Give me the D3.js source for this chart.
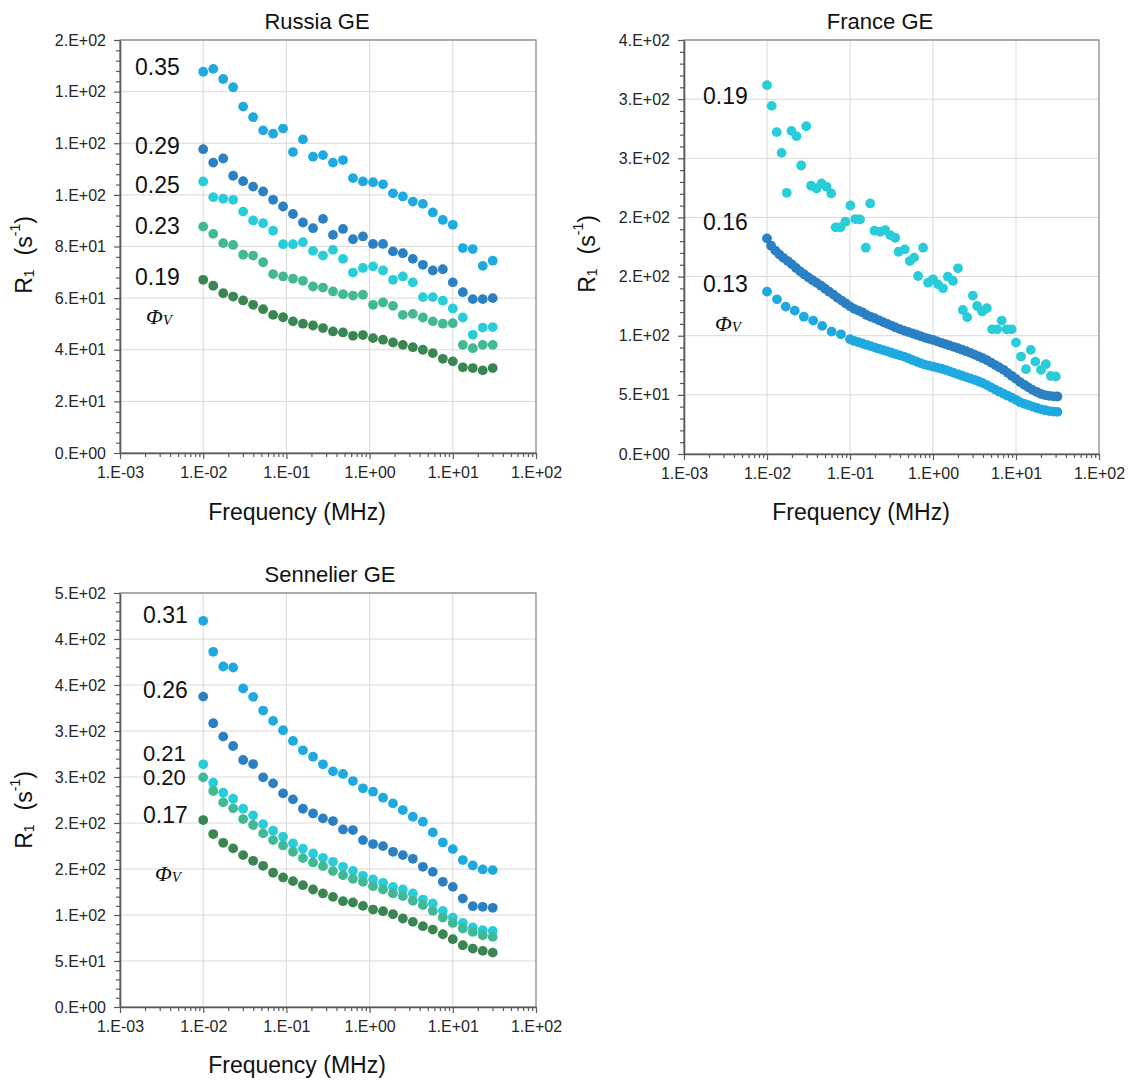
<!DOCTYPE html>
<html><head><meta charset="utf-8">
<script src="https://cdn.jsdelivr.net/npm/d3@7"></script>
<style>body{margin:0;background:#fff}</style>
</head><body>
<svg id="chart" width="1130" height="1082"></svg>
<script>
// ---------------- DATA ----------------
const xTicks = [1e-3, 1e-2, 1e-1, 1e0, 1e1, 1e2];
const xTickLabels = ["1.E-03", "1.E-02", "1.E-01", "1.E+00", "1.E+01", "1.E+02"];

const russiaYTicks = [0, 20, 40, 60, 80, 100, 120, 140, 160];
const russiaYLabels = ["0.E+00", "2.E+01", "4.E+01", "6.E+01", "8.E+01", "1.E+02", "1.E+02", "1.E+02", "2.E+02"];
const franceYTicks = [0, 50, 100, 150, 200, 250, 300, 350];
const franceYLabels = ["0.E+00", "5.E+01", "1.E+02", "2.E+02", "2.E+02", "3.E+02", "3.E+02", "4.E+02"];
const sennelierYTicks = [0, 50, 100, 150, 200, 250, 300, 350, 400, 450];
const sennelierYLabels = ["0.E+00", "5.E+01", "1.E+02", "2.E+02", "2.E+02", "3.E+02", "3.E+02", "4.E+02", "4.E+02", "5.E+02"];

// Russia GE (frequency in MHz, R1 in s^-1)
const russiaFreq = [0.01, 0.0132, 0.0174, 0.0229, 0.0302, 0.0398, 0.0525, 0.0692, 0.0912, 0.120, 0.158, 0.209, 0.275, 0.363, 0.479, 0.631, 0.832, 1.10, 1.45, 1.91, 2.51, 3.31, 4.37, 5.75, 7.59, 10.0, 13.2, 17.4, 22.9, 30.2];
const russia035 = [147.7,148.8,144.9,141.7,134.2,130.1,125.0,123.7,125.7,116.6,121.5,114.8,115.4,112.5,113.5,106.5,105.2,104.9,104.1,100.6,99.4,97.4,96.5,93.2,90.3,88.4,79.4,79.0,72.5,74.5];
const russia029 = [117.7,112.5,114.1,107.4,105.3,103.2,101.3,98.1,95.5,92.6,89.3,87.1,90.7,84.5,86.8,82.8,83.9,81.0,81.0,78.1,77.4,75.2,72.9,70.7,71.2,66.1,62.3,59.6,59.6,60.0];
const russia025 = [105.2,99.1,98.5,98.1,93.5,90.1,89.0,86.1,80.9,80.9,81.7,78.3,76.5,78.7,75.2,69.9,71.7,72.3,70.7,67.1,68.4,66.1,60.4,60.4,59.0,56.0,52.5,45.8,48.6,48.8];
const russia023 = [87.7,84.9,81.3,80.6,76.8,76.5,73.9,69.3,68.4,67.5,66.7,64.5,64.1,62.6,61.5,61.0,61.3,57.4,58.3,57.0,53.5,53.9,52.5,51.0,50.1,50.3,41.9,40.6,41.9,41.9];
const russia019 = [67.1,64.8,61.9,60.6,59.1,57.4,55.7,53.5,52.6,51.0,50.1,49.4,48.4,47.1,46.7,45.4,45.7,44.5,43.9,42.8,41.9,41.0,40.0,38.7,36.5,35.5,33.2,32.9,32.0,32.9];

// France GE
const france019Freq = [0.0100,0.0114,0.0131,0.0150,0.0173,0.0197,0.0227,0.0258,0.0297,0.0340,0.0395,0.0454,0.0522,0.0594,0.0671,0.0771,0.0879,0.101,0.116,0.132,0.155,0.175,0.197,0.231,0.265,0.305,0.350,0.385,0.457,0.525,0.592,0.661,0.759,0.871,1.00,1.15,1.32,1.51,1.74,2.00,2.29,2.58,3.02,3.40,3.91,4.45,5.15,5.92,6.73,7.73,8.87,10.0,11.5,13.2,15.1,17.1,20.0,22.9,26.3,30.2];
const france019 = [311.8,294.3,272.1,254.6,220.8,273.2,268.7,243.9,277.1,226.8,224.5,228.7,225.9,220.3,191.6,191.6,196.4,210.1,198.6,198.3,174.4,211.8,188.8,187.9,189.3,185.1,182.8,171.0,173.0,163.1,166.0,150.5,174.4,144.8,147.7,143.4,140.1,149.9,146.3,157.0,121.8,115.6,133.9,125.1,120.4,123.2,105.4,105.4,112.8,105.4,105.4,94.2,82.4,71.7,88.0,78.1,71.1,75.9,66.0,65.5];
const france016Freq = [0.0100,0.0112,0.0126,0.0141,0.0158,0.0178,0.0200,0.0224,0.0251,0.0282,0.0316,0.0355,0.0398,0.0447,0.0501,0.0562,0.0631,0.0708,0.0794,0.0891,0.100,0.112,0.126,0.141,0.158,0.178,0.200,0.224,0.251,0.282,0.316,0.355,0.398,0.447,0.501,0.562,0.631,0.708,0.794,0.891,1.00,1.12,1.26,1.41,1.58,1.78,2.00,2.24,2.51,2.82,3.16,3.55,3.98,4.47,5.01,5.62,6.31,7.08,7.94,8.91,10.0,11.2,12.6,14.1,15.8,17.8,20.0,22.4,25.1,28.2,31.6];
const france016 = [182.3,176.1,172.0,168.7,165.8,163.1,160.3,157.3,154.4,151.8,149.2,146.9,144.7,142.3,139.7,137.2,134.8,132.0,129.7,127.3,124.8,122.7,121.2,119.8,117.5,116.0,114.6,113.0,111.5,110.0,108.5,107.0,105.6,104.3,103.2,102.0,100.8,99.6,98.4,97.4,96.4,95.2,94.0,92.9,91.8,90.6,89.4,88.2,86.9,85.5,84.0,82.5,81.0,79.3,77.3,75.2,73.2,71.2,68.6,66.0,63.5,60.8,58.5,56.3,54.2,52.4,50.8,49.8,49.2,48.8,48.6];
const france013Freq = [0.0100,0.0132,0.0168,0.0216,0.0278,0.0360,0.0462,0.0600,0.0778,0.100,0.112,0.126,0.141,0.158,0.178,0.200,0.224,0.251,0.282,0.316,0.355,0.398,0.447,0.501,0.562,0.631,0.708,0.794,0.891,1.00,1.12,1.26,1.41,1.58,1.78,2.00,2.24,2.51,2.82,3.16,3.55,3.98,4.47,5.01,5.62,6.31,7.08,7.94,8.91,10.0,11.2,12.6,14.1,15.8,17.8,20.0,22.4,25.1,28.2,31.6];
const france013 = [137.3,130.8,124.6,121.2,116.1,112.8,108.3,103.5,101.2,97.0,95.6,94.5,93.4,92.3,91.2,90.0,88.9,87.9,86.8,85.6,84.5,83.4,82.3,81.0,79.5,78.2,76.8,75.6,74.7,73.9,73.0,72.1,71.2,69.9,68.6,67.4,66.2,65.0,63.9,62.7,61.3,59.9,58.2,56.3,54.4,52.7,51.0,49.3,47.6,45.8,43.8,42.4,41.3,40.1,38.9,37.8,37.0,36.3,35.8,35.6];

// Sennelier GE
const sennelierFreq = [0.01, 0.0132, 0.0174, 0.0229, 0.0302, 0.0398, 0.0525, 0.0692, 0.0912, 0.120, 0.158, 0.209, 0.275, 0.363, 0.479, 0.631, 0.832, 1.10, 1.45, 1.91, 2.51, 3.31, 4.37, 5.75, 7.59, 10.0, 13.2, 17.4, 22.9, 30.2];
const sennelier031 = [419.8,386.1,370.1,369.0,346.2,337.1,322.2,311.0,300.8,289.2,279.0,272.1,263.8,256.2,253.3,245.6,237.7,234.0,227.5,221.3,214.1,206.8,201.4,189.8,178.9,171.6,159.7,153.8,149.5,148.8];
const sennelier026 = [337.4,308.4,293.9,283.7,268.5,264.1,249.6,243.1,232.2,225.7,215.5,210.4,205.0,202.1,193.0,192.3,181.4,177.1,174.9,168.7,165.1,161.1,152.4,146.9,136.1,130.6,117.9,109.6,108.9,107.8];
const sennelier021 = [263.8,243.8,232.9,226.4,215.5,208.3,198.8,191.6,185.1,177.8,172.0,166.9,162.2,157.8,152.4,148.0,142.6,138.6,135.0,130.6,127.7,123.4,116.8,112.5,104.5,97.2,91.4,86.4,83.5,82.7];
const sennelier020 = [249.6,234.8,222.4,215.9,204.3,197.8,188.7,181.4,175.6,168.7,161.8,157.1,153.1,147.7,143.3,139.3,136.1,131.3,127.7,123.4,120.5,115.4,110.7,104.5,97.2,91.4,85.3,81.6,78.0,76.2];
const sennelier017 = [203.2,188.0,178.5,172.4,165.1,158.9,153.5,145.9,140.8,136.8,132.4,127.7,123.4,119.7,115.0,113.6,109.9,105.9,104.1,100.9,96.2,92.5,87.8,84.2,79.1,73.7,67.1,63.5,61.0,59.1];

// ---------------- STYLE ----------------
const FONT = "'Liberation Sans', Arial, Helvetica, sans-serif";
const SERIF = "'Liberation Serif', 'Times New Roman', serif";
const C = {lightBlue:'#1ea9e1', darkBlue:'#2a80c3', cyan:'#28cdd9', seaGreen:'#40b994', darkGreen:'#3a8651'};

const panels = [
  { title:"Russia GE", left:120, right:536, top:40, bottom:453, yMax:160, yStep:20,
    yTicks:russiaYTicks, yLabels:russiaYLabels, titleX:317, titleY:21, xTitleX:297, xTitleY:512, yTitleX:24, yTitleY:255,
    series:[
      {f:russiaFreq, v:russia035, c:C.lightBlue},
      {f:russiaFreq, v:russia029, c:C.darkBlue},
      {f:russiaFreq, v:russia025, c:C.cyan},
      {f:russiaFreq, v:russia023, c:C.seaGreen},
      {f:russiaFreq, v:russia019, c:C.darkGreen}],
    labels:[["0.35",135,67,23],["0.29",135,146,23],["0.25",135,185,23],["0.23",135,226,23],["0.19",135,277,23]],
    phi:[146,316] },
  { title:"France GE", left:684, right:1099, top:40, bottom:454, yMax:350, yStep:50,
    yTicks:franceYTicks, yLabels:franceYLabels, titleX:880, titleY:21, xTitleX:861, xTitleY:512, yTitleX:587, yTitleY:254,
    series:[
      {f:france019Freq, v:france019, c:C.cyan},
      {f:france016Freq, v:france016, c:C.darkBlue},
      {f:france013Freq, v:france013, c:C.lightBlue}],
    labels:[["0.19",703,96,23],["0.16",703,222,23],["0.13",703,284,23]],
    phi:[715,323] },
  { title:"Sennelier GE", left:120, right:536, top:593, bottom:1007, yMax:450, yStep:50,
    yTicks:sennelierYTicks, yLabels:sennelierYLabels, titleX:330, titleY:574, xTitleX:297, xTitleY:1065, yTitleX:24, yTitleY:810,
    series:[
      {f:sennelierFreq, v:sennelier031, c:C.lightBlue},
      {f:sennelierFreq, v:sennelier026, c:C.darkBlue},
      {f:sennelierFreq, v:sennelier021, c:C.cyan},
      {f:sennelierFreq, v:sennelier020, c:C.seaGreen},
      {f:sennelierFreq, v:sennelier017, c:C.darkGreen}],
    labels:[["0.31",143,615,23],["0.26",143,690,23],["0.21",143,753,22],["0.20",143,777,22],["0.17",143,815,23]],
    phi:[155,873] }
];

const svg = d3.select('#chart');
svg.append('rect').attr('width',1130).attr('height',1082).attr('fill','#fff');

function drawPanel(p) {
  const x = d3.scaleLog().domain([1e-3, 1e2]).range([p.left, p.right]);
  const y = d3.scaleLinear().domain([0, p.yMax]).range([p.bottom, p.top]);
  const g = svg.append('g');

  // gridlines
  g.append('g').selectAll('line').data(p.yTicks.slice(1)).join('line')
    .attr('x1', p.left).attr('x2', p.right).attr('y1', d => y(d)).attr('y2', d => y(d))
    .attr('stroke', '#d9d9d9').attr('stroke-width', 1);
  g.append('g').selectAll('line').data(xTicks.slice(1, -1)).join('line')
    .attr('y1', p.top).attr('y2', p.bottom).attr('x1', d => x(d)).attr('x2', d => x(d))
    .attr('stroke', '#d9d9d9').attr('stroke-width', 1);

  // frame
  g.append('rect').attr('x', p.left).attr('y', p.top)
    .attr('width', p.right - p.left).attr('height', p.bottom - p.top)
    .attr('fill', 'none').attr('stroke', '#808080').attr('stroke-width', 1.2);

  // minor ticks
  const yMinor = d3.range(0, p.yMax + 1e-9, p.yStep / 5).filter(v => Math.abs(v / p.yStep - Math.round(v / p.yStep)) > 1e-6);
  g.append('g').attr('transform', `translate(${p.left},0)`)
    .call(d3.axisLeft(y).tickValues(yMinor).tickSize(4).tickFormat('').tickSizeOuter(0))
    .call(s => { s.select('.domain').remove(); s.selectAll('line').attr('stroke', '#595959').attr('stroke-width', 1.2); });
  const xMinor = x.ticks().filter(v => Math.abs(Math.log10(v) - Math.round(Math.log10(v))) > 1e-6);
  g.append('g').attr('transform', `translate(0,${p.bottom})`)
    .call(d3.axisBottom(x).tickValues(xMinor).tickSize(4).tickFormat('').tickSizeOuter(0))
    .call(s => { s.select('.domain').remove(); s.selectAll('line').attr('stroke', '#595959').attr('stroke-width', 1.2); });

  // major axes
  const yAxis = g.append('g').attr('transform', `translate(${p.left},0)`)
    .call(d3.axisLeft(y).tickValues(p.yTicks).tickFormat((d, i) => p.yLabels[i]).tickSize(6).tickPadding(8).tickSizeOuter(0));
  const xAxis = g.append('g').attr('transform', `translate(0,${p.bottom})`)
    .call(d3.axisBottom(x).tickValues(xTicks).tickFormat((d, i) => xTickLabels[i]).tickSize(6).tickPadding(8).tickSizeOuter(0));
  [yAxis, xAxis].forEach(a => {
    a.attr('font-family', FONT).attr('font-size', 16);
    a.select('.domain').attr('stroke', '#595959').attr('stroke-width', 1.6);
    a.selectAll('line').attr('stroke', '#595959').attr('stroke-width', 1.2);
    a.selectAll('text').attr('fill', '#262626');
  });

  // points
  p.series.forEach(s => {
    g.append('g').selectAll('circle').data(s.f.map((f, i) => [f, s.v[i]])).join('circle')
      .attr('cx', d => x(d[0])).attr('cy', d => y(d[1])).attr('r', 4.9).attr('fill', s.c);
  });

  // value labels
  p.labels.forEach(([t, lx, ly, fs]) => {
    g.append('text').attr('x', lx).attr('y', ly).attr('dominant-baseline', 'central')
      .attr('font-family', FONT).attr('font-size', fs).attr('fill', '#111').text(t);
  });
  const ph = g.append('text').attr('x', p.phi[0]).attr('y', p.phi[1]).attr('dominant-baseline', 'central')
    .attr('font-family', SERIF).attr('font-style', 'italic').attr('fill', '#111');
  ph.append('tspan').attr('font-size', 22).text('\u03A6');
  ph.append('tspan').attr('font-size', 15).attr('dy', 4).text('V');

  // titles
  g.append('text').attr('x', p.titleX).attr('y', p.titleY).attr('text-anchor', 'middle').attr('dominant-baseline', 'central')
    .attr('font-family', FONT).attr('font-size', 22).attr('fill', '#111').text(p.title);
  g.append('text').attr('x', p.xTitleX).attr('y', p.xTitleY).attr('text-anchor', 'middle').attr('dominant-baseline', 'central')
    .attr('font-family', FONT).attr('font-size', 23).attr('fill', '#111').text('Frequency (MHz)');
  const yt = g.append('text').attr('transform', `translate(${p.yTitleX},${p.yTitleY}) rotate(-90)`)
    .attr('text-anchor', 'middle').attr('dominant-baseline', 'central')
    .attr('font-family', FONT).attr('font-size', 23).attr('fill', '#111');
  yt.append('tspan').text('R');
  yt.append('tspan').attr('font-size', 14).attr('dy', 5).text('1');
  yt.append('tspan').attr('dy', -5).attr('dx', 14).text('(s');
  yt.append('tspan').attr('font-size', 14).attr('dy', -9).text('-1');
  yt.append('tspan').attr('dy', 9).text(')');
}

panels.forEach(drawPanel);
</script>
</body></html>
